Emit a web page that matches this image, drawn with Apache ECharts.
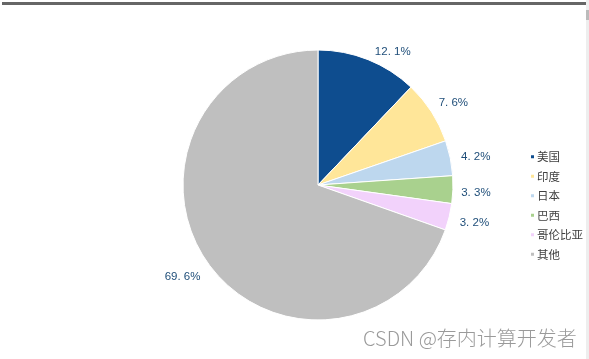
<!DOCTYPE html>
<html><head><meta charset="utf-8">
<script src="https://cdn.jsdelivr.net/npm/echarts@6/dist/echarts.min.js"></script>
<style>html,body{margin:0;padding:0;background:#fff}#c{width:589px;height:359px}</style>
</head><body><div id="c"></div>
<script>
const categories = ['美国','印度','日本','巴西','哥伦比亚','其他'];
const values = [12.1, 7.6, 4.2, 3.3, 3.2, 69.6];
const colors = ['#0e4d8f','#ffe699','#bdd7ee','#a9d18e','#f2d2fb','#bfbfbf'];
const labelShift = [[15,16],[0,5],[0,4],[-3,2],[0,0],[-4,-1]];

const data = categories.map((n,i)=>({name:n, value:values[i], itemStyle:{color:colors[i]}}));
const fmt = p => p.value.toFixed(1).replace('.', '. ') + '%';

const chart = echarts.init(document.getElementById('c'));
chart.setOption({
  animation:false,
  legend:{
    orient:'vertical', left:524, top:146,
    itemWidth:5, itemHeight:5, itemGap:8,
    icon:'rect',
    textStyle:{fontSize:11.5, color:'#404040', fontFamily:'Noto Sans CJK SC', padding:[0,0,0,-3]},
    data:categories
  },
  series:[
    {type:'pie', center:[318,185], radius:[0,135], startAngle:90, clockwise:true,
     label:{show:false}, labelLine:{show:false},
     itemStyle:{borderColor:'#fff', borderWidth:1},
     data:data, silent:true},
    {type:'pie', center:[318,185], radius:[150,166], startAngle:90, clockwise:true,
     legendHoverLink:false, silent:true,
     itemStyle:{color:'transparent'},
     label:{show:true, position:'inside', formatter:fmt, fontSize:11.5, color:'#1f4e79', fontFamily:'Liberation Sans'},
     labelLine:{show:false},
     data:categories.map((n,i)=>({name:n+' ', value:values[i], label:{offset:labelShift[i]}}))}
  ],
  graphic:[
    {type:'rect', shape:{x:2,y:2,width:584,height:3}, style:{fill:'#666'}},
    {type:'rect', shape:{x:586,y:0,width:3,height:359}, style:{fill:'#eeeeee'}},
    {type:'rect', shape:{x:586,y:10,width:3,height:10}, style:{fill:'#bbbbbb'}},
    {type:'text', left:363, top:328, style:{text:'CSDN @存内计算开发者', fontSize:20, fill:'#9a9a9a', fontFamily:'Noto Sans CJK SC', fontWeight:300}}
  ]
});
</script></body></html>
